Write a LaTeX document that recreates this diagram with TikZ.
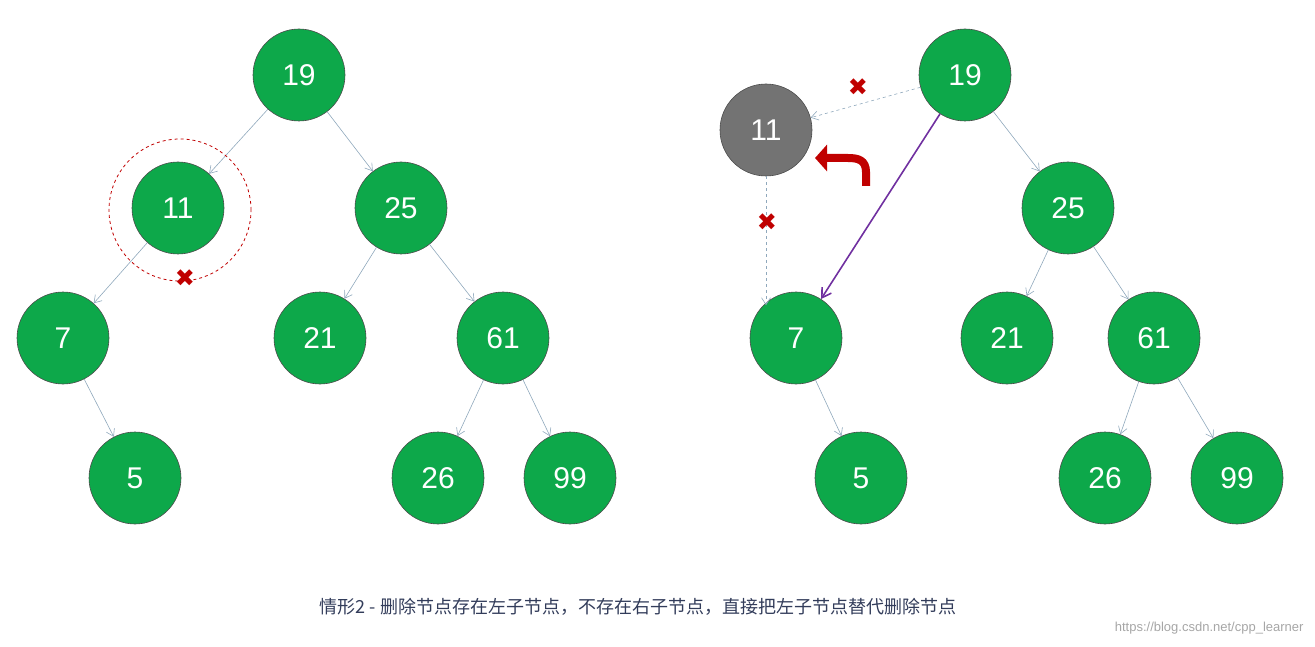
\documentclass[tikz,border=0pt]{standalone}
\usepackage{fontspec}
\setmainfont{Liberation Sans}
\newfontfamily\cjk{Noto Sans CJK SC}
\newfontfamily\djv{DejaVu Sans}
\usetikzlibrary{arrows.meta}
\definecolor{gr}{HTML}{0DA84A}
\definecolor{ed}{HTML}{8FA8BC}
\definecolor{xr}{HTML}{C00000}
\begin{document}
\begin{tikzpicture}[x=1pt,y=-1pt,
  tn/.style={circle,draw=black!70,line width=0.6pt,fill=gr,text=white,minimum size=92pt,inner sep=0pt,font=\fontsize{30}{30}\selectfont},
  gn/.style={tn,fill=black!55},
  ed/.style={draw=ed,line width=0.6pt,-{Straight Barb[length=7pt,width=9pt]}},
  ded/.style={ed,dashed},
  xm/.style={text=xr,font=\djv\fontsize{24}{24}\selectfont,inner sep=0pt}]
\useasboundingbox (0,0) rectangle (1315,647);
% left tree
\node[tn] (a19) at (299,75) {19};
\node[tn] (a11) at (178,208) {11};
\node[tn] (a25) at (401,208) {25};
\node[tn] (a7) at (63,338) {7};
\node[tn] (a21) at (320,338) {21};
\node[tn] (a61) at (503,338) {61};
\node[tn] (a5) at (135,478) {5};
\node[tn] (a26) at (438,478) {26};
\node[tn] (a99) at (570,478) {99};
\draw[ed] (a19) -- (a11); \draw[ed] (a19) -- (a25);
\draw[ed] (a11) -- (a7); \draw[ed] (a7) -- (a5);
\draw[ed] (a25) -- (a21); \draw[ed] (a25) -- (a61);
\draw[ed] (a61) -- (a26); \draw[ed] (a61) -- (a99);
\node[circle,draw=xr,dashed,line width=0.8pt,minimum size=142pt] (ring) at (180,210) {};
\node[xm] (x1) at (185,278) {✖};
% right tree
\node[tn] (b19) at (965,75) {19};
\node[gn] (b11) at (766,130) {11};
\node[tn] (b25) at (1068,208) {25};
\node[tn] (b7) at (796,338) {7};
\node[tn] (b21) at (1007,338) {21};
\node[tn] (b61) at (1154,338) {61};
\node[tn] (b5) at (861,478) {5};
\node[tn] (b26) at (1105,478) {26};
\node[tn] (b99) at (1237,478) {99};
\draw[ded] (b19) -- (b11);
\draw[ded] (b11.south) -- (b11.south |- b7.north west);
\draw[ed] (b19) -- (b25);
\draw[ed] (b7) -- (b5);
\draw[ed] (b25) -- (b21); \draw[ed] (b25) -- (b61);
\draw[ed] (b61) -- (b26); \draw[ed] (b61) -- (b99);
\draw[draw={rgb,255:red,112;green,48;blue,160},line width=1.6pt,-{Straight Barb[length=9pt,width=11pt]}] (b19) -- (b7);
\node[xm] (x2) at (858,87) {✖};
\node[xm] (x3) at (767,222) {✖};
\coordinate (cs) at (866,186);
\coordinate (ce) at (815,158);
\draw[xr,line width=8pt,-{Triangle[length=12pt,width=26pt]}] (cs) -- (866,172) .. controls (866,160) and (858,158) .. (848,158) -- (ce);
% caption
\node[text={rgb,255:red,50;green,60;blue,90},font=\cjk\fontsize{18}{18}\selectfont] (cap) at (638,607) {情形2 - 删除节点存在左子节点，不存在右子节点，直接把左子节点替代删除节点};
\node[text=black!35,font=\fontsize{13}{13}\selectfont,anchor=east] (wm) at (1307,628) {https://blog.csdn.net/cpp\_learner};
\end{tikzpicture}
\end{document}
